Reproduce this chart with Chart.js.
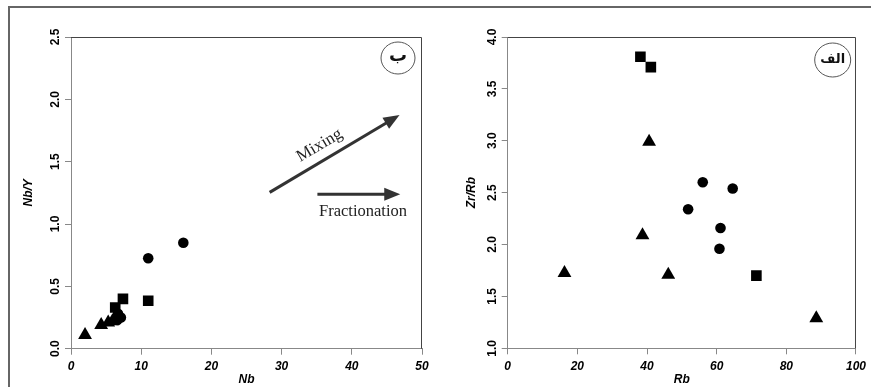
<!DOCTYPE html>
<html>
<head>
<meta charset="utf-8">
<script src="https://cdn.jsdelivr.net/npm/chart.js@4/dist/chart.umd.min.js"></script>
<style>
  html, body { margin: 0; padding: 0; background: #fff; overflow: hidden; }
  #wrap { position: relative; width: 871px; height: 387px; }
  #frame { position: absolute; left: 8px; top: 6px; right: 0; bottom: 0;
           border-top: 2px solid #666; border-left: 2px solid #666; }
  canvas { position: absolute; top: 0; }
</style>
</head>
<body>
<div id="wrap">
  <div id="frame"></div>
  <canvas id="chart-nb" width="436" height="387" style="left:0"></canvas>
  <canvas id="chart-rb" width="435" height="387" style="left:436px"></canvas>
</div>
<script>
// ---- left panel (ب): Nb vs Nb/Y ----
const nbCircleX   = [6.7, 7.1, 6.6, 11.0, 16.0];
const nbCircleY   = [0.28, 0.25, 0.23, 0.725, 0.85];
const nbSquareX   = [6.3, 7.4, 11.0];
const nbSquareY   = [0.33, 0.40, 0.385];
const nbTriX      = [2.0, 4.3, 5.3, 5.9];
const nbTriY      = [0.11, 0.19, 0.21, 0.22];
const nbTicksX    = [0, 10, 20, 30, 40, 50];
const nbTicksY    = [0, 0.5, 1.0, 1.5, 2.0, 2.5];

// trend arrows, in data units of the left panel
const mixingArrow        = [[28.3, 1.254], [46.8, 1.874]];
const fractionationArrow = [[35.1, 1.238], [46.9, 1.238]];
const mixingLabelAt      = [35.4, 1.63];
const fractionLabelAt    = [41.6, 1.10];

// ---- right panel (الف): Rb vs Zr/Rb ----
const rbCircleX   = [56.0, 64.6, 51.8, 61.1, 60.8];
const rbCircleY   = [2.60, 2.54, 2.34, 2.16, 1.96];
const rbSquareX   = [38.1, 41.1, 71.4];
const rbSquareY   = [3.81, 3.71, 1.70];
const rbTriX      = [40.6, 38.7, 16.3, 46.1, 88.6];
const rbTriY      = [2.99, 2.09, 1.725, 1.71, 1.29];
const rbTicksX    = [0, 20, 40, 60, 80, 100];
const rbTicksY    = [1.0, 1.5, 2.0, 2.5, 3.0, 3.5, 4.0];

const pts = (xs, ys) => xs.map((x, i) => ({ x, y: ys[i] }));

const tickFontX = { family: 'Liberation Sans', size: 12, weight: 'bold', style: 'italic' };
const tickFontY = { family: 'Liberation Sans', size: 12, weight: 'bold' };
const titleFont = { family: 'Liberation Sans', size: 12, weight: 'bold', style: 'italic' };

// thin dark box on the top and right of the plot area
const boxPlugin = {
  id: 'box',
  afterDraw(chart) {
    const { ctx, chartArea: a } = chart;
    ctx.save();
    ctx.strokeStyle = '#444';
    ctx.lineWidth = 1;
    ctx.beginPath();
    ctx.moveTo(a.left, a.top + 0.5);
    ctx.lineTo(a.right - 0.5, a.top + 0.5);
    ctx.lineTo(a.right - 0.5, a.bottom);
    ctx.stroke();
    ctx.restore();
  }
};

// circled panel letter in the top right corner
const badgePlugin = {
  id: 'badge',
  afterDraw(chart, args, opts) {
    if (!opts.text) return;
    const { ctx, chartArea: a } = chart;
    const cx = a.right - opts.dx, cy = a.top + opts.dy;
    ctx.save();
    ctx.beginPath();
    ctx.ellipse(cx, cy, opts.r, opts.r - 1, 0, 0, Math.PI * 2);
    ctx.fillStyle = '#fff';
    ctx.fill();
    ctx.strokeStyle = '#555';
    ctx.lineWidth = 1;
    ctx.stroke();
    ctx.fillStyle = '#111';
    ctx.font = 'bold ' + opts.size + 'px "DejaVu Sans"';
    ctx.textAlign = 'center';
    ctx.textBaseline = 'middle';
    ctx.fillText(opts.text, cx, cy + opts.ty);
    ctx.restore();
  }
};

function drawArrow(ctx, x1, y1, x2, y2) {
  const ang = Math.atan2(y2 - y1, x2 - x1);
  const head = 16, half = 6.5;
  const bx = x2 - Math.cos(ang) * head, by = y2 - Math.sin(ang) * head;
  ctx.beginPath();
  ctx.moveTo(x1, y1);
  ctx.lineTo(bx + Math.cos(ang) * 2, by + Math.sin(ang) * 2);
  ctx.stroke();
  ctx.beginPath();
  ctx.moveTo(x2, y2);
  ctx.lineTo(bx - Math.sin(ang) * half, by + Math.cos(ang) * half);
  ctx.lineTo(bx + Math.sin(ang) * half, by - Math.cos(ang) * half);
  ctx.closePath();
  ctx.fill();
}

const arrowsPlugin = {
  id: 'arrows',
  afterDraw(chart) {
    const { ctx, scales: { x, y } } = chart;
    const px = p => [x.getPixelForValue(p[0]), y.getPixelForValue(p[1])];
    ctx.save();
    ctx.strokeStyle = '#333';
    ctx.fillStyle = '#333';
    ctx.lineWidth = 3;
    const [m1, m2] = mixingArrow.map(px);
    drawArrow(ctx, m1[0], m1[1], m2[0], m2[1]);
    const [f1, f2] = fractionationArrow.map(px);
    drawArrow(ctx, f1[0], f1[1], f2[0], f2[1]);

    ctx.fillStyle = '#222';
    ctx.textAlign = 'center';
    ctx.textBaseline = 'middle';
    const ml = px(mixingLabelAt);
    ctx.save();
    ctx.font = '17px "Liberation Serif"';
    ctx.translate(ml[0], ml[1]);
    ctx.rotate(Math.atan2(m2[1] - m1[1], m2[0] - m1[0]));
    ctx.fillText('Mixing', 0, 0);
    ctx.restore();
    ctx.font = '16.5px "Liberation Serif"';
    const fl = px(fractionLabelAt);
    ctx.fillText('Fractionation', fl[0], fl[1]);
    ctx.restore();
  }
};

function makePanel(canvasId, cfg) {
  return new Chart(document.getElementById(canvasId), {
    type: 'scatter',
    data: {
      datasets: [
        { data: cfg.circles, pointStyle: 'circle',   pointRadius: 5.3 },
        { data: cfg.squares, pointStyle: 'rect',     pointRadius: 7.5 },
        { data: cfg.tris,    pointStyle: 'triangle', pointRadius: 8 }
      ].map(d => Object.assign(d, {
        backgroundColor: '#000', borderColor: '#000', borderWidth: 0,
        pointHoverRadius: d.pointRadius
      }))
    },
    options: {
      responsive: false,
      animation: false,
      devicePixelRatio: 1,
      layout: { padding: cfg.padding },
      plugins: {
        legend: { display: false },
        tooltip: { enabled: false },
        badge: cfg.badge
      },
      scales: {
        x: {
          type: 'linear', min: cfg.xTicks[0], max: cfg.xTicks[cfg.xTicks.length - 1],
          afterBuildTicks: s => { s.ticks = cfg.xTicks.map(v => ({ value: v })); },
          afterFit: s => { s.height = 38.3; },
          ticks: { font: tickFontX, color: '#000', padding: 5 },
          grid: { drawOnChartArea: false, tickLength: 6, color: '#888' },
          border: { color: '#888', width: 1 },
          title: { display: true, text: cfg.xTitle, font: titleFont, color: '#000', padding: 0 }
        },
        y: {
          type: 'linear', min: cfg.yTicks[0], max: cfg.yTicks[cfg.yTicks.length - 1],
          afterBuildTicks: s => { s.ticks = cfg.yTicks.map(v => ({ value: v })); },
          afterFit: s => { s.width = cfg.yWidth; },
          ticks: {
            font: tickFontY, color: '#000', padding: 1,
            minRotation: 90, maxRotation: 90, crossAlign: 'center',
            callback: v => Number(v).toFixed(1)
          },
          grid: { drawOnChartArea: false, tickLength: 6, color: '#888' },
          border: { color: '#888', width: 1 },
          title: { display: true, text: cfg.yTitle, font: titleFont, color: '#000', padding: 0 }
        }
      }
    },
    plugins: cfg.plugins
  });
}

makePanel('chart-nb', {
  circles: pts(nbCircleX, nbCircleY),
  squares: pts(nbSquareX, nbSquareY),
  tris: pts(nbTriX, nbTriY),
  xTicks: nbTicksX, yTicks: nbTicksY,
  xTitle: 'Nb', yTitle: 'Nb/Y',
  yWidth: 50,
  padding: { left: 21, top: 37, right: 14, bottom: 0 },
  badge: { text: 'ب', dx: 24, dy: 21, r: 17, ty: -2, size: 18 },
  plugins: [boxPlugin, badgePlugin, arrowsPlugin]
});

makePanel('chart-rb', {
  circles: pts(rbCircleX, rbCircleY),
  squares: pts(rbSquareX, rbSquareY),
  tris: pts(rbTriX, rbTriY),
  xTicks: rbTicksX, yTicks: rbTicksY,
  xTitle: 'Rb', yTitle: 'Zr/Rb',
  yWidth: 43.2,
  padding: { left: 28.5, top: 37, right: 12.7, bottom: 0.4 },
  badge: { text: 'الف', dx: 23.3, dy: 23, r: 18, ty: 0, size: 13 },
  plugins: [boxPlugin, badgePlugin]
});
</script>
</body>
</html>
